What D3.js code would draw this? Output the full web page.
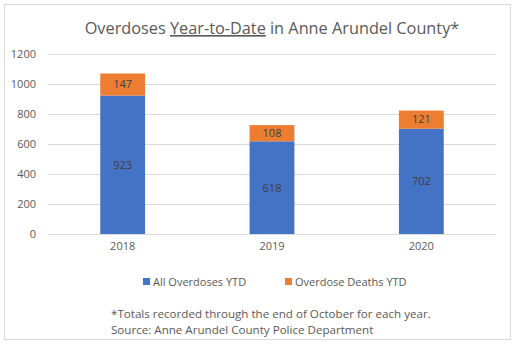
<!DOCTYPE html>
<html><head><meta charset="utf-8">
<script src="https://cdn.jsdelivr.net/npm/d3@7"></script>
<style>body{margin:0;background:#fff}svg{display:block}text{font-family:"Open Sans","Noto Sans",sans-serif}</style>
</head><body>
<svg id="c" width="516" height="346"></svg>
<script>
const years = ["2018", "2019", "2020"];
const allOverdoses = [923, 618, 702];
const overdoseDeaths = [147, 108, 121];
const yTicks = [0, 200, 400, 600, 800, 1000, 1200];
const seriesNames = ["All Overdoses YTD", "Overdose Deaths YTD"];
const colors = ["#4472c4", "#ed7d31"];

const svg = d3.select("#c");
svg.append("rect").attr("x",4.5).attr("y",4.5).attr("width",506).attr("height",335)
  .attr("fill","#fff").attr("stroke","#d9d9d9");

const x = d3.scaleBand().domain(years).range([48, 496]).paddingInner(0.7).paddingOuter(0.35);
const y = d3.scaleLinear().domain([0, 1200]).range([234, 54]);

// grid
svg.append("g").selectAll("line").data(yTicks).join("line")
  .attr("x1",48).attr("x2",496).attr("y1",d=>Math.round(y(d))+0.5).attr("y2",d=>Math.round(y(d))+0.5)
  .attr("stroke","#d9d9d9");

const yAxis = d3.axisLeft(y).tickValues(yTicks).tickFormat(d3.format("d")).tickSize(0).tickPadding(0);
const ga = svg.append("g").attr("transform","translate(36,0)").call(yAxis);
ga.select(".domain").remove();
ga.selectAll("text").attr("fill","#595959").style("font-size","11px");

const xAxis = d3.axisBottom(x).tickSize(0).tickPadding(8);
const gx = svg.append("g").attr("transform","translate(0,234)").call(xAxis);
gx.select(".domain").remove();
gx.selectAll("text").attr("fill","#595959").style("font-size","11px");

const data = years.map((yr,i)=>({yr, a: allOverdoses[i], d: overdoseDeaths[i]}));
const stack = d3.stack().keys(["a","d"])(data);
stack.forEach((s,si)=>{
  svg.append("g").selectAll("rect").data(s).join("rect")
    .attr("x",d=>x(d.data.yr)).attr("width",x.bandwidth())
    .attr("y",d=>y(d[1])).attr("height",d=>y(d[0])-y(d[1]))
    .attr("fill",colors[si]);
  svg.append("g").selectAll("text").data(s).join("text")
    .attr("x",d=>x(d.data.yr)+x.bandwidth()/2).attr("y",d=>(y(d[0])+y(d[1]))/2)
    .attr("dy","0.35em").attr("text-anchor","middle")
    .attr("fill","#404040").style("font-size","11px")
    .text(d=>d[1]-d[0]);
});

// title
const t = svg.append("text").attr("x",272).attr("y",34).attr("text-anchor","middle")
  .attr("fill","#595959").style("font-size","16.3px");
t.append("tspan").text("Overdoses ");
t.append("tspan").attr("text-decoration","underline").text("Year-to-Date");
t.append("tspan").text(" in Anne Arundel County*");

// legend
const lx = [143, 285];
seriesNames.forEach((n,i)=>{
  svg.append("rect").attr("x",lx[i]).attr("y",278).attr("width",7).attr("height",7).attr("fill",colors[i]);
  svg.append("text").attr("x",lx[i]+10).attr("y",282).attr("dy","0.35em")
    .attr("fill","#595959").style("font-size","11px").text(n);
});

// footnote
svg.append("text").attr("x",111).attr("y",318).attr("fill","#595959").style("font-size","11.6px")
  .text("*Totals recorded through the end of October for each year.");
svg.append("text").attr("x",111).attr("y",334).attr("fill","#595959").style("font-size","11.6px")
  .text("Source: Anne Arundel County Police Department");
</script>
</body></html>
